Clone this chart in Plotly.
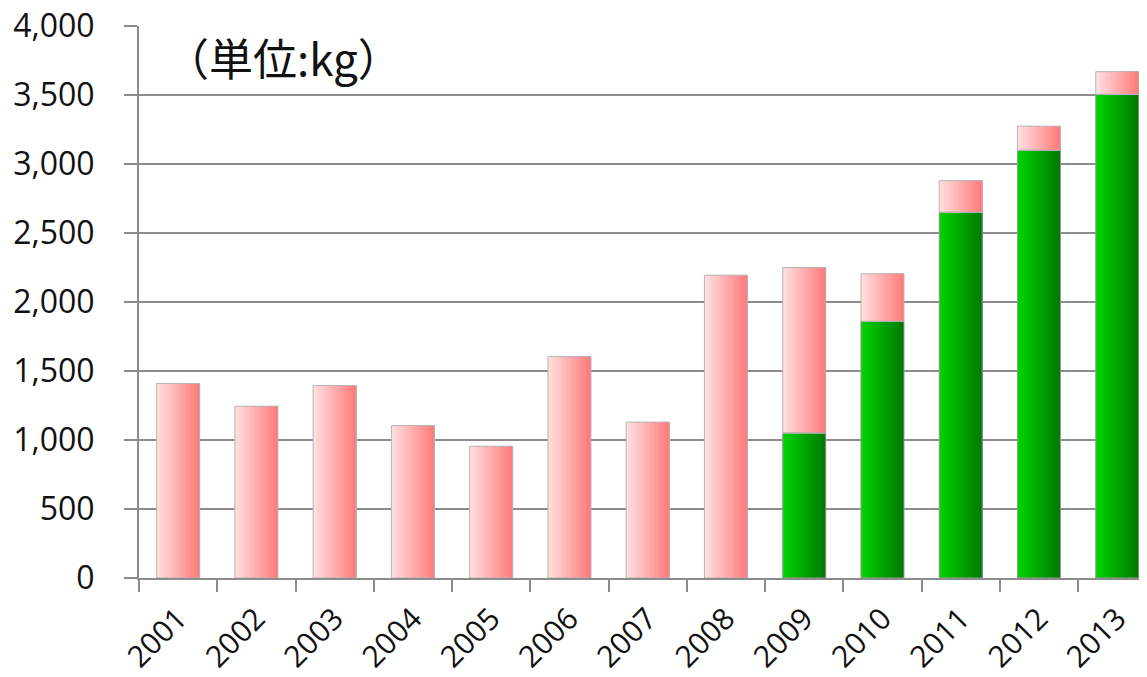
import plotly.graph_objects as go

years = ["2001", "2002", "2003", "2004", "2005", "2006", "2007",
         "2008", "2009", "2010", "2011", "2012", "2013"]
green_vals = [0, 0, 0, 0, 0, 0, 0, 0, 1050, 1860, 2650, 3100, 3505]
pink_vals = [1410, 1245, 1395, 1105, 955, 1605, 1130, 2195, 1200, 345, 230, 175, 165]
y_ticks = [0, 500, 1000, 1500, 2000, 2500, 3000, 3500, 4000]
unit_label = "（単位:kg）"

BAR_W = 0.55
N = 18

def lerp(c1, c2, t):
    return "rgb(%d,%d,%d)" % tuple(round(a + (b - a) * t) for a, b in zip(c1, c2))

pink_l, pink_r = (255, 222, 222), (255, 124, 124)
green_l, green_r = (0, 210, 0), (0, 122, 0)

fig = go.Figure()
for i in range(N):
    t = i / (N - 1)
    off = -BAR_W / 2 + i * BAR_W / N
    w = BAR_W / 2 - off
    fig.add_trace(go.Bar(x=years, y=green_vals, width=w, offset=off,
                         marker=dict(color=lerp(green_l, green_r, t), line=dict(width=0)),
                         showlegend=False, hoverinfo="skip"))
    fig.add_trace(go.Bar(x=years, y=pink_vals, base=green_vals, width=w, offset=off,
                         marker=dict(color=lerp(pink_l, pink_r, t), line=dict(width=0)),
                         showlegend=False, hoverinfo="skip"))

# outlines
green_outline = [v if v > 0 else None for v in green_vals]
fig.add_trace(go.Bar(x=years, y=green_outline, width=BAR_W, offset=-BAR_W / 2,
                     marker=dict(color="rgba(0,0,0,0)", line=dict(color="#9a9a9a", width=1)),
                     showlegend=False, hoverinfo="skip"))
fig.add_trace(go.Bar(x=years, y=pink_vals, base=green_vals, width=BAR_W, offset=-BAR_W / 2,
                     marker=dict(color="rgba(0,0,0,0)", line=dict(color="#b5b5b5", width=1)),
                     showlegend=False, hoverinfo="skip"))

fig.add_annotation(text=unit_label, xref="paper", yref="paper", x=0.024, y=0.944,
                   xanchor="left", yanchor="middle", showarrow=False,
                   font=dict(family="Noto Sans CJK JP", size=44, color="#111111"))

axis_grey = "#8c8c8c"
fig.update_layout(
    width=1139, height=669,
    barmode="overlay",
    paper_bgcolor="white", plot_bgcolor="white",
    margin=dict(l=131, r=0, t=18, b=99),
    font=dict(family="Open Sans", size=32, color="#111111"),
    xaxis=dict(type="category", categoryorder="array", categoryarray=years,
               range=[-0.5, 12.38], tickson="boundaries", ticks="outside",
               ticklen=12, tickwidth=2, tickcolor=axis_grey,
               showline=True, linecolor=axis_grey, linewidth=2,
               tickangle=-45, showgrid=False, ticklabelstandoff=9,
               automargin=False, ticklabeloverflow="allow",
               tickfont=dict(family="Open Sans", size=30)),
    yaxis=dict(range=[0, 4001], tickvals=y_ticks, tickformat=",",
               showgrid=True, gridcolor=axis_grey, gridwidth=2,
               ticks="outside", ticklen=13, tickwidth=2, tickcolor=axis_grey,
               showline=True, linecolor=axis_grey, linewidth=2,
               zeroline=False, ticklabelstandoff=23, automargin=False,
               ticklabeloverflow="allow",
               tickfont=dict(family="Open Sans", size=32)),
)

fig.write_html("out.html")
